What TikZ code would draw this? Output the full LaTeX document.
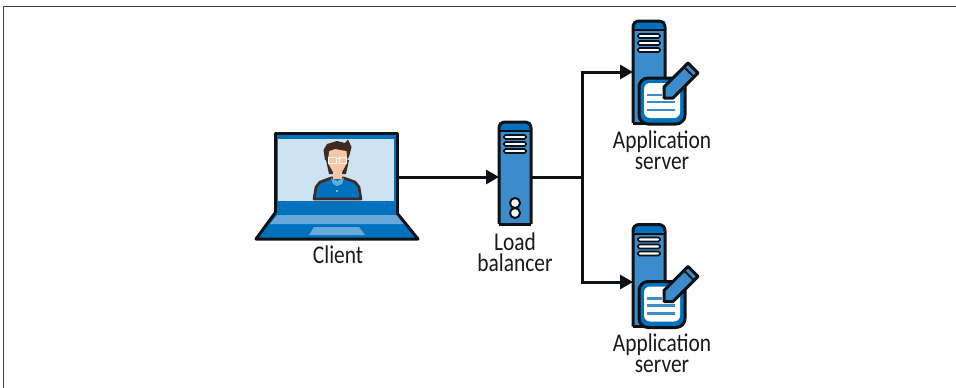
\documentclass[tikz,border=0pt]{standalone}
\usepackage{fontspec}
\setmainfont[FakeStretch=0.84]{Carlito}
\usetikzlibrary{arrows.meta,positioning}
\definecolor{deepblue}{HTML}{0071BC}
\definecolor{midblue}{HTML}{3B8CCB}
\definecolor{paleblue}{HTML}{CDE3F1}
\definecolor{softblue}{HTML}{66A9DA}
\definecolor{inkblack}{HTML}{0E1116}
\definecolor{hairbrown}{HTML}{3E2A20}
\definecolor{skintone}{HTML}{F5C6A8}
\tikzset{
  iconbox/.style={inner sep=0pt,outer sep=0pt},
  iconline/.style={draw=inkblack,line width=3pt,line join=round},
  wire/.style={draw=inkblack,line width=3pt},
  wiretip/.style={wire,-{Triangle[length=13pt,width=14pt]}},
  lbl/.style={inner sep=0pt,align=center,text=black!90,font=\fontsize{25.5}{21}\selectfont},
  serverpic/.pic={
    \fill[midblue] (0,0) rectangle (32,102);
    % cap
    \fill[deepblue,rounded corners=6pt] (0,9) -- (0,0) -- (32,0) -- (32,9) -- cycle;
    \draw[iconline,rounded corners=6pt] (0,102) -- (0,0) -- (32,0) -- (32,102);
    \draw[iconline] (0,102) -- (32,102);
    \draw[draw=inkblack,line width=2pt] (0,9) -- (32,9);
    % slots
    \foreach \sloty in {13,20,27}
      \draw[draw=inkblack,fill=white,line width=1.6pt,rounded corners=1.5pt] (5,\sloty) rectangle (27,\sloty+4);
  },
  docpic/.pic={
    \draw[iconline,fill=deepblue,rounded corners=9pt] (6,57) rectangle (52,103);
    \fill[white,rounded corners=6pt] (11,62) rectangle (47,97);
    \foreach \liney/\lineend in {74/29,81/42,89/42}
      \draw[midblue,line width=2.6pt] (14,\liney) -- (\lineend,\liney);
    % pencil
    \draw[iconline,fill=midblue] (31,66) -- (55,42) -- (65,52) -- (40,77) -- (31,77) -- cycle;
    \draw[draw=inkblack,line width=2pt] (51,46) -- (61,56);
  },
}
\begin{document}
\begin{tikzpicture}[x=1pt,y=-1pt]
    \useasboundingbox (0,0) rectangle (956,388);
    \draw[black!75,line width=1.4pt] (3.5,388) -- (3.5,6.5) -- (956,6.5);
    % Icon boxes
    \node[iconbox,minimum width=122pt,minimum height=88pt] (client) at (336,177) {};
    \node[iconbox,minimum width=32pt,minimum height=102pt] (balancer) at (515,173) {};
    \node[iconbox,minimum width=32pt,minimum height=102pt] (appone) at (649,72) {};
    \node[iconbox,minimum width=32pt,minimum height=102pt] (apptwo) at (649,275.5) {};
    % Laptop
    \fill[deepblue] (275,213) -- (256,239) -- (418,239) -- (397,213) -- cycle;
    \fill[softblue] (277,215) -- (270,224) -- (404,224) -- (397,215) -- cycle;
    \fill[softblue] (314,227) -- (309,235) -- (365,235) -- (359,227) -- cycle;
    \draw[iconline] (275,213) -- (256,239) -- (418,239) -- (397,213);
    \draw[iconline,fill=deepblue] (275,213) -- (275,133) -- (397,133) -- (397,213);
    \fill[paleblue] (278,139) rectangle (394,201);
    % Person on the screen
    \fill[hairbrown] (326,160) -- (329,174) -- (346,174) -- (349,160) -- cycle;
    \draw[hairbrown,line width=2.6pt,line join=round,fill=deepblue]
        (314,199) -- (316,187) -- (320,182) -- (331,178) -- (344,178) -- (355,182) -- (359,187) -- (361,199) -- cycle;
    \fill[skintone] (328,150) -- (347,150) -- (347,163) -- (342,172) -- (342,179) -- (333,179) -- (333,172) -- (328,163) -- cycle;
    \fill[softblue] (331,178) -- (337,181) -- (344,178) -- (342,184) -- (337,186) -- (333,184) -- cycle;
    \fill[white] (337,191) circle (0.9);
    \fill[hairbrown] (325,160) -- (323.5,150) -- (327,144) -- (337,141) -- (345,143) -- (348,139.5) -- (351.5,147) -- (349.5,155) -- (347.5,160) -- (346.5,151) -- (335,149) -- (329,151) -- (328,160) -- cycle;
    \draw[white!85!skintone,line width=1pt] (328.5,157) rectangle (336.5,163);
    \draw[white!85!skintone,line width=1pt] (339,157) rectangle (346.5,163);
    \draw[white!85!skintone,line width=1pt] (336.5,158.5) -- (339,158.5);
    % Servers
    \pic at (balancer.north west) {serverpic};
    \fill[white,draw=inkblack,line width=2pt] (515,203) circle (5);
    \fill[white,draw=inkblack,line width=2pt] (515,213) circle (5);
    \pic at (appone.north west) {serverpic};
    \pic at (appone.north west) {docpic};
    \pic at (apptwo.north west) {serverpic};
    \pic at (apptwo.north west) {docpic};
    % Connectors
    \coordinate (fork) at (582,177);
    \draw[wiretip] (client.east) -- ([yshift=-4pt]balancer.west);
    \draw[wire] ([yshift=-4pt]balancer.east) -- (fork);
    \draw[wiretip] (fork) |- (appone.west);
    \draw[wiretip] (fork) |- ([yshift=-6.5pt]apptwo.west);
    % Labels
    \node[lbl] (clientlbl) at (338,254.5) {Client};
    \node[lbl] (balancerlbl) at (515,252) {Load\\balancer};
    \node[lbl] (apponelbl) at (662,150.5) {Application\\server};
    \node[lbl] (apptwolbl) at (662,353) {Application\\server};
\end{tikzpicture}
\end{document}
